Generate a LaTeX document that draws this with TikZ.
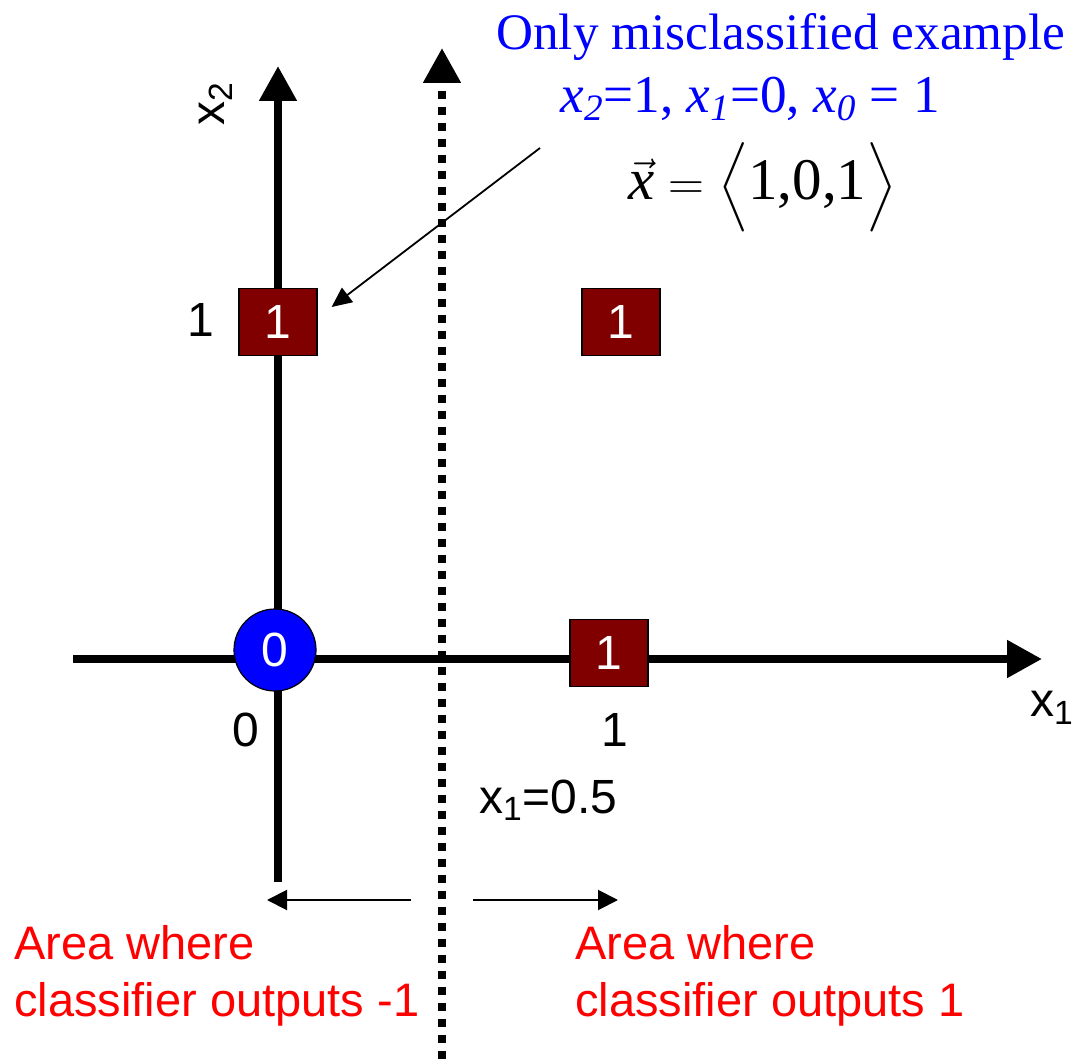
\documentclass[tikz,border=0pt]{standalone}
\usepackage{amsmath}
\usepackage{fontspec}
\setmainfont{Liberation Serif}
\newfontfamily\arialfont{Liberation Sans}
\usepackage{xcolor}
\usetikzlibrary{arrows.meta,positioning}
\definecolor{classred}{HTML}{800000}
\tikzset{
  axisline/.style={line width=4pt,-{Triangle[length=17.5pt,width=18pt]}},
  boundaryline/.style={line width=4pt,dash pattern=on 4pt off 4pt,
    -{Triangle[length=17.5pt,width=18pt]}},
  posbox/.style={draw=black,line width=0.6pt,fill=classred,text=white,inner sep=0pt,
    minimum width=39pt,minimum height=33.5pt,font=\arialfont\fontsize{24}{28}\selectfont},
  negdot/.style={circle,draw=black,line width=0.6pt,fill=blue,text=white,inner sep=0pt,
    minimum size=41pt,font=\arialfont\fontsize{24}{28}\selectfont},
  ticklabel/.style={font=\arialfont\fontsize{24}{28}\selectfont},
  regionarrow/.style={-{Triangle[length=10pt,width=10pt]},line width=1pt},
  pointarrow/.style={-{Triangle[length=10pt,width=9pt]},line width=0.9pt},
  regionlabel/.style={text=red,align=left,anchor=north west,inner sep=0pt,
    font=\arialfont\fontsize{23.5}{28.5}\selectfont}
}

\begin{document}
\begin{tikzpicture}[x=0.5pt,y=-0.5pt]
  \useasboundingbox (0,0) rectangle (1082,1059);
  % axes and decision boundary
  \coordinate (x2low) at (278,882);
  \coordinate (x2top) at (278,66);
  \coordinate (x1low) at (73,659);
  \coordinate (x1top) at (1042,659);
  \coordinate (blow) at (442,1059);
  \coordinate (btop) at (442,48);
  \draw[axisline] (x2low) -- (x2top);
  \draw[axisline] (x1low) -- (x1top);
  \draw[boundaryline] (blow) -- (btop);
  % examples
  \node[negdot] (p00) at (275,650) {0};
  \node[posbox] (p01) at (278,322) {1};
  \node[posbox] (p11) at (621,322) {1};
  \node[posbox] (p10) at (609,653) {1};
  % tick and axis labels
  \node[ticklabel] (t2) at (201,320) {1};
  \node[ticklabel] (t0) at (246,730) {0};
  \node[ticklabel] (t1) at (615,730) {1};
  \node[ticklabel] (lx1) at (1052,708) {x\textsubscript{1}};
  \node[ticklabel,rotate=90] (lx2) at (216,104) {x\textsubscript{2}};
  \node[ticklabel,anchor=west] (lb) at (472,800) {x\textsubscript{1}=0.5};
  % annotation of the misclassified example
  \node[text=blue,anchor=base west,inner sep=0pt,font=\fontsize{25.6}{30}\selectfont]
    (note) at (496,50) {Only misclassified example};
  \node[text=blue,anchor=base west,inner sep=0pt,font=\fontsize{26.6}{31}\selectfont]
    (vals) at (560,113) {\textit{x}\textsubscript{\textit{2}}=1,
      \textit{x}\textsubscript{\textit{1}}=0, \textit{x}\textsubscript{\textit{0}} = 1};
  \node[anchor=base west,inner sep=0pt,font=\fontsize{29.5}{34}\selectfont]
    (vec) at (628,200)
    {$\vec{\mbox{\itshape x}} = \left\langle\rule[-8pt]{0pt}{32pt}\mbox{1,0,1}\right\rangle$};
  \coordinate (pstart) at (540,148);
  \coordinate (ptip) at ([xshift=7pt,yshift=7.5pt]p01.east);
  \draw[pointarrow] (pstart) -- (ptip);
  % regions
  \coordinate (lstart) at (411,900);
  \coordinate (lend) at (267,900);
  \coordinate (rstart) at (473,900);
  \coordinate (rend) at (618,900);
  \draw[regionarrow] (lstart) -- (lend);
  \draw[regionarrow] (rstart) -- (rend);
  \node[regionlabel] (lneg) at (14,925) {Area where\\classifier outputs -1};
  \node[regionlabel] (lpos) at (575,925) {Area where\\classifier outputs 1};
\end{tikzpicture}
\end{document}
